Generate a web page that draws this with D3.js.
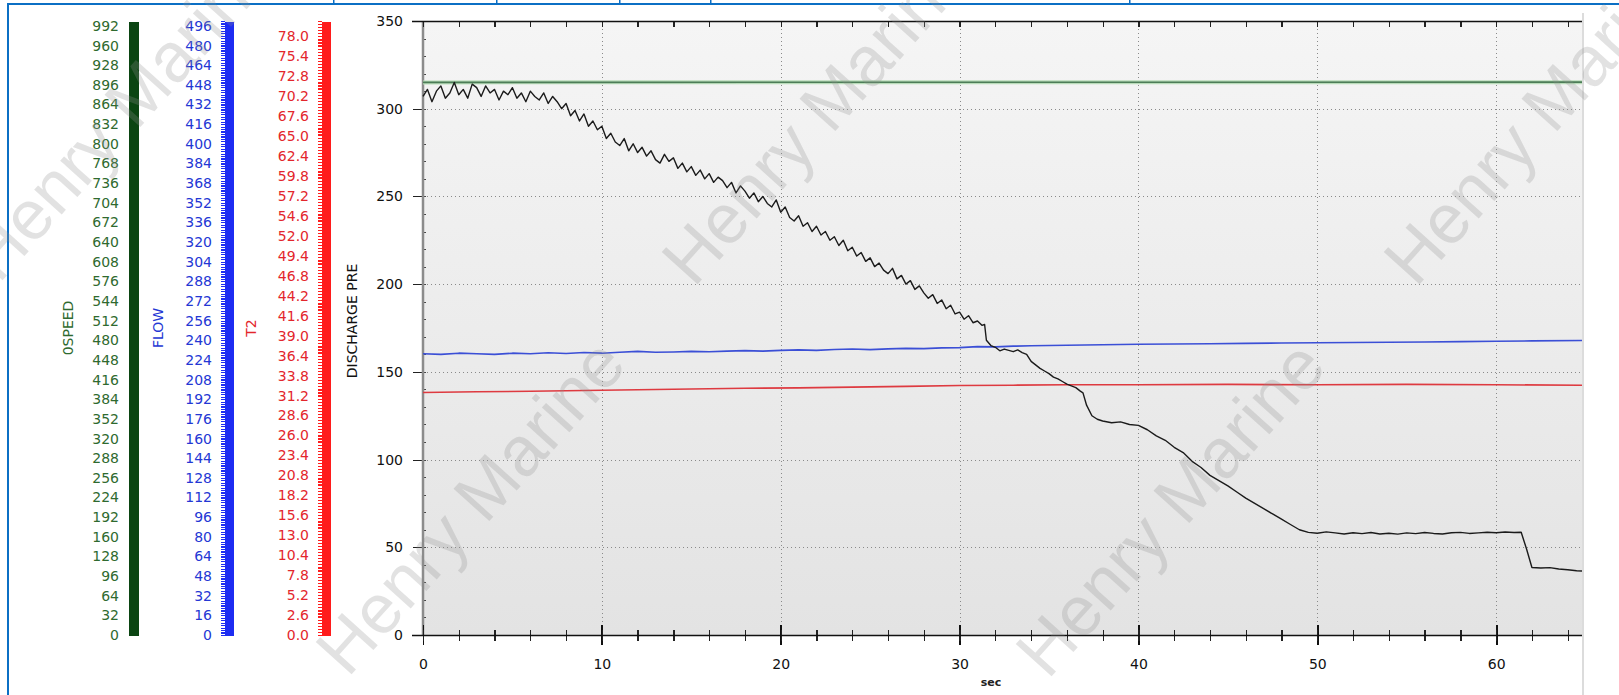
<!DOCTYPE html>
<meta charset="utf-8">
<head>
  <title>Discharge pressure trend</title>
  <script src="https://d3js.org/d3.v7.min.js"></script>
  <style>
    body { margin: 0; background: #fff; }
    svg { display: block; }
    .tick text { font-family: "DejaVu Sans", sans-serif; font-size: 14px; }
    .axis path, .axis line { shape-rendering: crispEdges; }
  </style>
</head>
<body>
<div id="chart"></div>
<script>

// ---- data ----
var secTicks = [0, 10, 20, 30, 40, 50, 60];
var pressTicks = [0, 50, 100, 150, 200, 250, 300, 350];
var speedTicks = [0, 32, 64, 96, 128, 160, 192, 224, 256, 288, 320, 352, 384, 416, 448, 480,
                  512, 544, 576, 608, 640, 672, 704, 736, 768, 800, 832, 864, 896, 928, 960, 992];
var flowTicks = [0, 16, 32, 48, 64, 80, 96, 112, 128, 144, 160, 176, 192, 208, 224, 240,
                 256, 272, 288, 304, 320, 336, 352, 368, 384, 400, 416, 432, 448, 464, 480, 496];
var t2Ticks = [0, 2.6, 5.2, 7.8, 10.4, 13.0, 15.6, 18.2, 20.8, 23.4, 26.0, 28.6, 31.2, 33.8, 36.4,
               39.0, 41.6, 44.2, 46.8, 49.4, 52.0, 54.6, 57.2, 59.8, 62.4, 65.0, 67.6, 70.2, 72.8, 75.4, 78.0];

// [sec, value]
var speed = [[0, 900], [20, 900.3], [40, 900.2], [64.8, 900.4]];

var flow = [[0, 229], [1, 228.5], [2, 229.5], [3, 229], [4, 228.5], [5, 229.5], [6, 229], [7, 229.8],
  [8, 229.2], [9, 230], [10, 229.5], [11, 230.3], [12, 231], [13, 230.2], [14, 230.5], [15, 231],
  [16, 230.6], [17, 231.2], [18, 231.6], [19, 231.2], [20, 231.8], [21, 232.2], [22, 231.8], [23, 232.5],
  [24, 232.9], [25, 232.4], [26, 233], [27, 233.4], [28, 233.2], [29, 233.8], [30, 234], [31, 234.8],
  [32, 234.6], [33, 235.2], [34, 235.5], [35, 235.8], [36, 236], [37, 236.2], [38, 236.4], [40, 236.8],
  [42, 237], [44, 237.2], [46, 237.5], [48, 237.8], [50, 238], [52, 238.2], [54, 238.4], [56, 238.6],
  [58, 238.9], [60, 239.2], [62, 239.5], [64.8, 239.8]];

var t2 = [[0, 31.6], [3, 31.7], [6, 31.75], [9, 31.85], [12, 31.95], [15, 32.05], [18, 32.15],
  [21, 32.2], [24, 32.3], [27, 32.4], [30, 32.5], [33, 32.55], [36, 32.6], [40, 32.6], [45, 32.65],
  [50, 32.6], [55, 32.65], [60, 32.6], [64.8, 32.55]];

var discharge = [[0, 307], [0.25, 311], [0.5, 304], [0.75, 310], [1, 313], [1.25, 306], [1.5, 309],
  [1.75, 315], [2, 308], [2.25, 311], [2.5, 306], [2.75, 314], [3, 312], [3.25, 307], [3.5, 313],
  [3.75, 309], [4, 311], [4.25, 305], [4.5, 310], [4.75, 308], [5, 312], [5.25, 306], [5.5, 309],
  [5.75, 304], [6, 310], [6.25, 307], [6.5, 305], [6.75, 309], [7, 303], [7.25, 307], [7.5, 304],
  [7.75, 300], [8, 303], [8.25, 296], [8.5, 299], [8.75, 293], [9, 297], [9.25, 290], [9.5, 293],
  [9.75, 288], [10, 290], [10.25, 283], [10.5, 286], [10.75, 281], [11, 279], [11.25, 283], [11.5, 276],
  [11.75, 280], [12, 275], [12.25, 278], [12.5, 273], [12.75, 276], [13, 271], [13.25, 269], [13.5, 274],
  [13.75, 270], [14, 272], [14.25, 266], [14.5, 269], [14.75, 264], [15, 267], [15.25, 262], [15.5, 265],
  [15.75, 260], [16, 263], [16.25, 258], [16.5, 261], [16.75, 259], [17, 255], [17.25, 258], [17.5, 252],
  [17.75, 256], [18, 253], [18.25, 249], [18.5, 252], [18.75, 247], [19, 250], [19.25, 246], [19.5, 244],
  [19.75, 248], [20, 241], [20.25, 244], [20.5, 238], [20.75, 236], [21, 239], [21.25, 233], [21.5, 235],
  [21.75, 230], [22, 233], [22.25, 228], [22.5, 230], [22.75, 225], [23, 227], [23.25, 222], [23.5, 225],
  [23.75, 219], [24, 221], [24.25, 216], [24.5, 218], [24.75, 213], [25, 215], [25.25, 210], [25.5, 212],
  [25.75, 208], [26, 206], [26.25, 209], [26.5, 203], [26.75, 205], [27, 200], [27.25, 202], [27.5, 197],
  [27.75, 199], [28, 195], [28.25, 192], [28.5, 194], [28.75, 189], [29, 191], [29.25, 186], [29.5, 188],
  [29.75, 183], [30, 184], [30.25, 180], [30.5, 182], [30.75, 178], [31, 179], [31.25, 176.5], [31.4, 177],
  [31.5, 168], [31.75, 165], [32, 164], [32.25, 162], [32.5, 163], [33, 161.5], [33.25, 162.5], [33.5, 161],
  [33.75, 160], [34, 156], [34.25, 154], [34.5, 152], [34.75, 150.5], [35, 149], [35.25, 147], [35.5, 146],
  [35.75, 144.5], [36, 143], [36.25, 142], [36.5, 141], [36.75, 139], [36.9, 138], [37.1, 131], [37.4, 125],
  [37.7, 123], [38, 122], [38.5, 121], [39, 121.5], [39.5, 120], [40, 119.5], [40.5, 117], [41, 113.5],
  [41.5, 111], [42, 107], [42.5, 104], [43, 99], [43.5, 95.5], [44, 91], [44.5, 88], [45, 85],
  [45.5, 81.5], [46, 78], [46.5, 75], [47, 72], [47.5, 69], [48, 66], [48.5, 63], [49, 60],
  [49.5, 58.5], [50, 58], [50.5, 58.8], [51, 58.2], [51.5, 57.6], [52, 58.3], [52.5, 57.8], [53, 58.4],
  [53.5, 57.6], [54, 58], [54.5, 57.5], [55, 58.2], [55.5, 57.8], [56, 58.4], [56.5, 57.9], [57, 57.6],
  [57.5, 58.3], [58, 58.5], [58.5, 57.9], [59, 58.2], [59.5, 58.6], [60, 58.3], [60.5, 58.7], [61, 58.4],
  [61.4, 58.6], [61.7, 49], [62, 38.5], [62.5, 38.2], [63, 38.4], [63.5, 37.6], [64, 37.2], [64.5, 36.6],
  [64.8, 36.5]];

var watermarks = [[121, 112], [470, 506], [816, 116], [1170, 508], [1538, 116]];

// ---- layout ----
var W = 1619, H = 695;
var plot = {left: 423, right: 1582, top: 21, bottom: 635};

var svg = d3.select("#chart").append("svg")
    .attr("width", W)
    .attr("height", H);

var defs = svg.append("defs");
var grad = defs.append("linearGradient")
    .attr("id", "bg").attr("x1", 0).attr("y1", 0).attr("x2", 0).attr("y2", 1);
grad.append("stop").attr("offset", "0%").attr("stop-color", "#f5f5f5");
grad.append("stop").attr("offset", "100%").attr("stop-color", "#e3e3e3");

// frame from the page this came out of
var frameBlue = "#0b6fc4";
svg.append("rect").attr("x", 7).attr("y", 3).attr("width", W - 7).attr("height", 2).attr("fill", frameBlue);
svg.append("rect").attr("x", 7).attr("y", 3).attr("width", 2).attr("height", H - 3).attr("fill", frameBlue);
[333, 496, 619, 710, 1129].forEach(function(x) {
  svg.append("rect").attr("x", x).attr("y", 0).attr("width", 1.5).attr("height", 4).attr("fill", frameBlue);
});
svg.append("line")
    .attr("x1", plot.right + 1).attr("x2", plot.right + 1)
    .attr("y1", 13).attr("y2", H)
    .attr("stroke", "#d0d0d0").attr("stroke-width", 1.5);

// scales
var x = d3.scaleLinear().domain([0, 64.8]).range([plot.left, plot.right]);
var y = d3.scaleLinear().domain([0, 350]).range([plot.bottom, plot.top]);
var ySpeed = d3.scaleLinear().domain([0, 1000]).range([plot.bottom, plot.top]);
var yFlow = d3.scaleLinear().domain([0, 500]).range([plot.bottom, plot.top]);
var yT2 = d3.scaleLinear().domain([0, 80]).range([plot.bottom, plot.top]);

// ---- the three extra scales on the left ----
function sideAxis(scale, ticks, xPos, fmt, labelColor, barColor, comb, title, titleX) {
  var g = svg.append("g").attr("class", "axis").attr("transform", "translate(" + xPos + ",0)");
  g.call(d3.axisLeft(scale).tickValues(ticks).tickSize(0).tickPadding(10).tickFormat(fmt));
  g.select(".domain").remove();
  g.selectAll(".tick text").attr("fill", labelColor);

  g.append("rect")
      .attr("x", comb ? 3 : 0).attr("y", plot.top + 1)
      .attr("width", comb ? 9 : 10).attr("height", plot.bottom - plot.top)
      .attr("fill", barColor);
  if (comb) {
    var step = comb, n = Math.round((scale.domain()[1] - scale.domain()[0]) / step);
    g.selectAll(".comb").data(d3.range(n + 1)).enter().append("line")
        .attr("x1", -1).attr("x2", 3)
        .attr("y1", function(i) { return scale(i * step) + 0.5; })
        .attr("y2", function(i) { return scale(i * step) + 0.5; })
        .attr("stroke", barColor).attr("stroke-width", 1.2);
  }
  svg.append("text")
      .attr("transform", "translate(" + titleX + ",328) rotate(-90)")
      .attr("text-anchor", "middle")
      .attr("dy", "0.35em")
      .attr("fill", labelColor)
      .style("font-family", "DejaVu Sans, sans-serif")
      .style("font-size", "14px")
      .text(title);
}

sideAxis(ySpeed, speedTicks, 129, d3.format("d"), "#2f6a2f", "#0b4512", 0, "0SPEED", 68);
sideAxis(yFlow, flowTicks, 222, d3.format("d"), "#2437d4", "#1d2cf2", 2, "FLOW", 158);
sideAxis(yT2, t2Ticks, 319, d3.format(".1f"), "#e3262c", "#ff1c1c", 0.4, "T2", 251);

svg.append("text")
    .attr("transform", "translate(352,321) rotate(-90)")
    .attr("text-anchor", "middle")
    .attr("dy", "0.35em")
    .attr("fill", "#111")
    .style("font-family", "DejaVu Sans, sans-serif")
    .style("font-size", "14px")
    .text("DISCHARGE PRE");

// ---- main plot ----
svg.append("rect")
    .attr("x", plot.left).attr("y", plot.top)
    .attr("width", plot.right - plot.left).attr("height", plot.bottom - plot.top)
    .attr("fill", "url(#bg)");

// dotted grid
svg.append("g").selectAll("line")
    .data(pressTicks.slice(1, -1)).enter().append("line")
    .attr("x1", plot.left).attr("x2", plot.right)
    .attr("y1", function(d) { return Math.round(y(d)) + 0.5; })
    .attr("y2", function(d) { return Math.round(y(d)) + 0.5; })
    .attr("stroke", "#8a8a8a").attr("stroke-dasharray", "1,3");
svg.append("g").selectAll("line")
    .data(secTicks.slice(1)).enter().append("line")
    .attr("y1", plot.top).attr("y2", plot.bottom)
    .attr("x1", function(d) { return Math.round(x(d)) + 0.5; })
    .attr("x2", function(d) { return Math.round(x(d)) + 0.5; })
    .attr("stroke", "#8a8a8a").attr("stroke-dasharray", "1,3");

// left pressure axis
var yAxis = svg.append("g").attr("class", "axis").attr("transform", "translate(" + plot.left + ",0)");
yAxis.call(d3.axisLeft(y).tickValues(pressTicks).tickSize(10).tickPadding(10));
yAxis.select(".domain").remove();
yAxis.selectAll(".tick line").attr("stroke", "#222");
yAxis.selectAll(".tick text").attr("fill", "#111").attr("x", -20);
yAxis.append("g").call(d3.axisRight(y).ticks(35).tickSize(3).tickFormat(""))
    .call(function(g) { g.select(".domain").remove(); })
    .selectAll("line").attr("stroke", "#444");
svg.append("line")
    .attr("x1", plot.left).attr("x2", plot.left)
    .attr("y1", plot.top).attr("y2", plot.bottom)
    .attr("stroke", "#8c8c8c").attr("stroke-width", 2.5);

// top border with ticks
var topAxis = svg.append("g").attr("class", "axis").attr("transform", "translate(0," + plot.top + ")");
topAxis.call(d3.axisBottom(x).ticks(32).tickSize(6).tickFormat(""));
topAxis.select(".domain").remove();
topAxis.selectAll("line").attr("stroke", "#222").attr("stroke-width", 1.3);
svg.append("line")
    .attr("x1", plot.left - 11).attr("x2", plot.right)
    .attr("y1", plot.top + 0.5).attr("y2", plot.top + 0.5)
    .attr("stroke", "#111").attr("stroke-width", 1.5);

// bottom axis
var xAxis = svg.append("g").attr("class", "axis").attr("transform", "translate(0," + plot.bottom + ")");
xAxis.call(d3.axisBottom(x).tickValues(secTicks).tickSize(10).tickPadding(14));
xAxis.select(".domain").remove();
xAxis.selectAll(".tick line").attr("y1", -10).attr("stroke", "#111").attr("stroke-width", 1.8);
xAxis.selectAll(".tick text").attr("fill", "#111");
var minor = svg.append("g").attr("class", "axis").attr("transform", "translate(0," + plot.bottom + ")");
minor.call(d3.axisBottom(x).ticks(32).tickSize(6).tickFormat(""));
minor.select(".domain").remove();
minor.selectAll("line").attr("y1", -5).attr("stroke", "#222").attr("stroke-width", 1.3);
svg.append("line")
    .attr("x1", plot.left - 11).attr("x2", plot.right)
    .attr("y1", plot.bottom + 0.5).attr("y2", plot.bottom + 0.5)
    .attr("stroke", "#111").attr("stroke-width", 1.5);

svg.append("text")
    .attr("x", 991).attr("y", 686)
    .attr("text-anchor", "middle")
    .attr("fill", "#222")
    .style("font-family", "DejaVu Sans, sans-serif")
    .style("font-size", "11px")
    .style("font-weight", "bold")
    .text("sec");

// ---- series ----
function drawSeries(data, scale, color, width) {
  var line = d3.line()
      .x(function(d) { return x(d[0]); })
      .y(function(d) { return scale(d[1]); });
  svg.append("path")
      .datum(data)
      .attr("d", line)
      .attr("fill", "none")
      .attr("stroke", color)
      .attr("stroke-width", width)
      .attr("stroke-linejoin", "round");
}

drawSeries(speed, ySpeed, "#b9dcb9", 4);
drawSeries(speed, ySpeed, "#4d7d58", 1.6);
drawSeries(flow, yFlow, "#3b4fd6", 1.6);
drawSeries(t2, yT2, "#de3a40", 1.6);
drawSeries(discharge, y, "#1b1b1b", 1.4);

// ---- watermark ----
svg.append("g").selectAll("text")
    .data(watermarks).enter().append("text")
    .attr("transform", function(d) { return "translate(" + d[0] + "," + d[1] + ") rotate(-48)"; })
    .attr("text-anchor", "middle")
    .attr("dy", "0.35em")
    .attr("fill", "#8f8f8f")
    .attr("fill-opacity", 0.26)
    .style("font-family", "Liberation Sans, Arial, sans-serif")
    .style("font-size", "70px")
    .text("Henry Marine");

</script>
</body>
</html>
